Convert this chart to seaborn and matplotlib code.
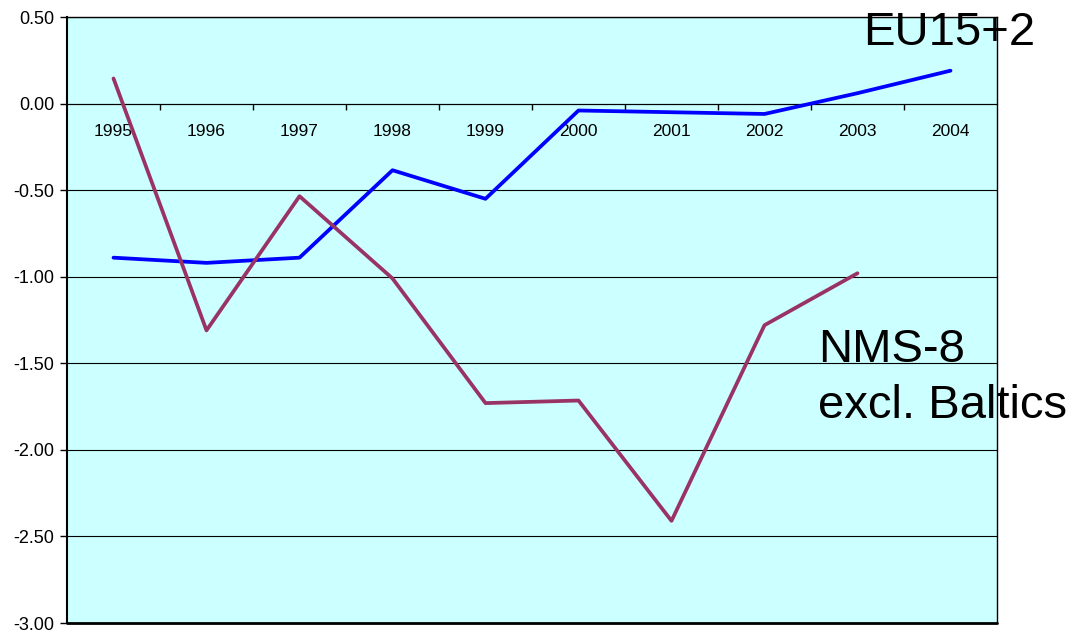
import matplotlib
matplotlib.use("Agg")
import matplotlib.pyplot as plt
import seaborn as sns
import pandas as pd
import numpy as np
from matplotlib.ticker import FixedLocator, FuncFormatter

years = [1995, 1996, 1997, 1998, 1999, 2000, 2001, 2002, 2003, 2004]
eu15_2 = [-0.89, -0.92, -0.89, -0.385, -0.55, -0.04, -0.05, -0.06, 0.06, 0.19]
nms8 = [0.145, -1.31, -0.535, -1.01, -1.73, -1.715, -2.41, -1.28, -0.98, np.nan]
series_names = ["EU15+2", "NMS-8 excl. Baltics"]
yticks = [0.5, 0.0, -0.5, -1.0, -1.5, -2.0, -2.5, -3.0]

df = pd.DataFrame({
    "year": years * 2,
    "value": eu15_2 + nms8,
    "series": [series_names[0]] * len(years) + [series_names[1]] * len(years),
}).dropna()

sns.set_style("white")
plt.rcParams["font.family"] = ["Liberation Sans", "DejaVu Sans"]
plt.rcParams["text.color"] = "black"

fig = plt.figure(figsize=(10.72, 6.32), dpi=100)
ax = fig.add_axes([67 / 1072, 1 - 623 / 632, 930 / 1072, 606 / 632])
ax.set_facecolor("#CCFFFF")

for y in yticks:
    ax.axhline(y, color="#000000", lw=0.8, zorder=1)

sns.lineplot(data=df, x="year", y="value", hue="series", sort=False,
             palette={series_names[0]: "#0000FF", series_names[1]: "#993366"},
             linewidth=2.7, legend=False, ax=ax, zorder=3)

ax.set_xlim(1994.5, 2004.5)
ax.set_ylim(-3.0, 0.5)
ax.set_xlabel("")
ax.set_ylabel("")

# y axis
ax.yaxis.set_major_locator(FixedLocator(yticks))
ax.yaxis.set_major_formatter(FuncFormatter(lambda v, p: f"{v:.2f}"))
ax.tick_params(axis="y", which="major", direction="out", length=5, width=1,
               color="black", labelcolor="black", labelsize=13, pad=4, left=True)

# x axis at zero
ax.spines["bottom"].set_position(("data", 0))
ax.spines["bottom"].set_linewidth(0.8)
ax.xaxis.set_major_locator(FixedLocator(years))
ax.xaxis.set_major_formatter(FuncFormatter(lambda v, p: f"{int(round(v))}"))
ax.xaxis.set_minor_locator(FixedLocator([y + 0.5 for y in years[:-1]]))
ax.tick_params(axis="x", which="major", length=0, labelsize=12.5, labelcolor="black",
               pad=14.5, bottom=True)
ax.tick_params(axis="x", which="minor", direction="out", length=4, width=1,
               color="black", bottom=True)

for s in ["left", "top", "right", "bottom"]:
    ax.spines[s].set_visible(True)
    ax.spines[s].set_color("black")
ax.spines["left"].set_linewidth(1.5)
ax.spines["top"].set_linewidth(1.0)
ax.spines["right"].set_linewidth(1.0)
ax.axhline(-3.0, color="black", lw=2.0, clip_on=False, zorder=4)

ax.text(2003.06, 0.338, "EU15+2", fontsize=34, color="black", zorder=5,
        clip_on=False, va="baseline")
ax.text(2002.575, -1.493, "NMS-8", fontsize=34, color="black", zorder=5,
        clip_on=False, va="baseline")
ax.text(2002.575, -1.816, "excl. Baltics", fontsize=34, color="black", zorder=5,
        clip_on=False, va="baseline")

fig.savefig("out.png", dpi=100, facecolor="white")
